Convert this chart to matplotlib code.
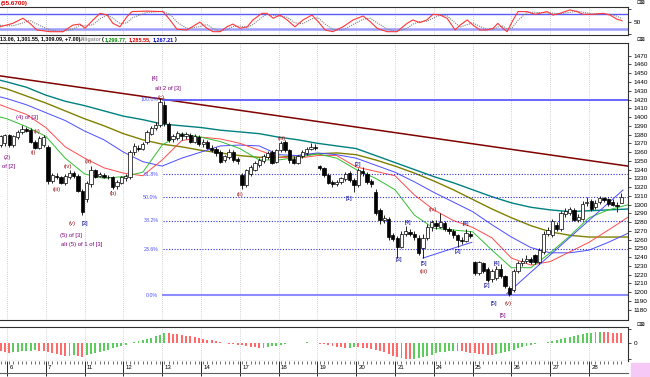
import matplotlib.pyplot as plt
import numpy as np
from matplotlib.patches import Rectangle

# ---- data ----
days = ['6', '7', '11', '12', '13', '14', '17', '18', '19', '20', '21', '24', '25', '26', '27', '28']

opens = [1368, 1370, 1379, 1368, 1377, 1383, 1386, 1385, 1371, 1365, 1368,
         1366, 1327, 1333, 1331, 1325, 1332, 1336, 1333, 1316,
         1306, 1323, 1339, 1333, 1334, 1332, 1331, 1321, 1325,
         1330, 1331, 1360, 1365, 1364, 1371, 1381, 1388, 1391,
         1414, 1392, 1375, 1376, 1381, 1378, 1380, 1372, 1377,
         1369, 1372, 1365, 1363, 1360, 1351, 1354, 1360, 1352,
         1334, 1322, 1335, 1340, 1345, 1350, 1354, 1360, 1349,
         1362, 1371, 1362, 1352, 1348, 1355, 1359, 1364, 1366,
         1344, 1342, 1334, 1326, 1323, 1326, 1329, 1336, 1328,
         1322, 1338, 1335, 1327, 1314, 1294, 1283, 1284, 1265,
         1262, 1252, 1266, 1269, 1267, 1262, 1250, 1262, 1274,
         1279, 1275, 1279, 1272, 1270, 1265, 1260, 1259, 1267,
         1234, 1222, 1233, 1227, 1215, 1216, 1226, 1218, 1205,
         1203, 1224, 1233, 1236, 1238, 1242, 1234, 1246, 1266,
         1265, 1277, 1272, 1289, 1290, 1294, 1283, 1284, 1302,
         1304, 1297, 1303, 1307, 1306, 1303, 1300, 1302]
highs = [1380, 1381, 1381, 1380, 1385, 1391, 1389, 1387, 1374, 1378, 1380,
         1368, 1336, 1336, 1333, 1335, 1340, 1338, 1335, 1318,
         1327, 1344, 1341, 1337, 1336, 1334, 1333, 1328, 1333,
         1335, 1362, 1370, 1368, 1371, 1385, 1390, 1394, 1422,
         1418, 1394, 1381, 1384, 1383, 1383, 1382, 1381, 1380,
         1375, 1374, 1368, 1366, 1362, 1357, 1363, 1362, 1354,
         1336, 1341, 1345, 1350, 1353, 1358, 1361, 1362, 1364,
         1373, 1374, 1364, 1355, 1357, 1362, 1366, 1370, 1369,
         1345, 1343, 1336, 1328, 1328, 1332, 1337, 1338, 1330,
         1342, 1343, 1337, 1329, 1318, 1296, 1288, 1286, 1268,
         1264, 1270, 1276, 1272, 1270, 1265, 1266, 1278, 1283,
         1282, 1290, 1281, 1275, 1272, 1267, 1263, 1272, 1270,
         1236, 1236, 1235, 1229, 1226, 1230, 1232, 1220, 1207,
         1226, 1236, 1239, 1242, 1240, 1244, 1250, 1270, 1274,
         1284, 1280, 1293, 1296, 1297, 1296, 1289, 1304, 1309,
         1306, 1305, 1310, 1309, 1308, 1306, 1303, 1313.06]
lows = [1366, 1367, 1366, 1366, 1375, 1381, 1383, 1370, 1363, 1363, 1366,
        1324, 1325, 1329, 1323, 1322, 1329, 1330, 1314, 1288,
        1303, 1320, 1330, 1331, 1330, 1329, 1318, 1318, 1323,
        1327, 1329, 1357, 1361, 1362, 1369, 1380, 1385, 1389,
        1390, 1371, 1372, 1374, 1374, 1375, 1370, 1370, 1367,
        1366, 1363, 1360, 1356, 1347, 1349, 1352, 1349, 1346,
        1318, 1320, 1333, 1338, 1343, 1348, 1352, 1346, 1347,
        1360, 1360, 1348, 1346, 1346, 1353, 1357, 1362, 1362,
        1340, 1332, 1323, 1320, 1321, 1324, 1327, 1326, 1314,
        1320, 1333, 1324, 1320, 1288, 1278, 1279, 1260, 1258,
        1239, 1250, 1264, 1264, 1260, 1243, 1239, 1260, 1270,
        1272, 1273, 1270, 1267, 1262, 1252, 1255, 1257, 1262,
        1220, 1220, 1222, 1212, 1212, 1214, 1216, 1205, 1196,
        1200, 1222, 1230, 1233, 1232, 1232, 1232, 1244, 1264,
        1263, 1270, 1270, 1286, 1288, 1281, 1280, 1282, 1299,
        1293, 1295, 1301, 1303, 1299, 1298, 1292, 1301.55]
closes = [1378, 1379, 1368, 1378, 1383, 1386, 1384, 1372, 1365, 1376, 1377,
          1327, 1334, 1331, 1325, 1333, 1336, 1333, 1316, 1292,
          1325, 1339, 1332, 1335, 1332, 1331, 1320, 1326, 1331,
          1333, 1360, 1367, 1364, 1369, 1383, 1388, 1391, 1417,
          1393, 1374, 1378, 1382, 1378, 1381, 1372, 1378, 1369,
          1372, 1365, 1362, 1359, 1349, 1355, 1360, 1351, 1350,
          1322, 1339, 1343, 1348, 1351, 1356, 1359, 1348, 1362,
          1370, 1362, 1351, 1348, 1355, 1360, 1364, 1366, 1365,
          1342, 1334, 1325, 1323, 1326, 1330, 1335, 1328, 1322,
          1340, 1336, 1326, 1323, 1290, 1282, 1285, 1263, 1261,
          1252, 1267, 1270, 1267, 1263, 1245, 1262, 1275, 1280,
          1276, 1280, 1272, 1270, 1265, 1260, 1258, 1268, 1264,
          1222, 1234, 1224, 1214, 1224, 1227, 1218, 1207, 1198,
          1224, 1233, 1236, 1238, 1235, 1234, 1248, 1267, 1271,
          1281, 1272, 1290, 1293, 1295, 1283, 1286, 1301, 1303,
          1295, 1302, 1307, 1305, 1301, 1300, 1298, 1309.09]

# moving averages / alligator, sampled every half day
ma_teal = [1442, 1440, 1434, 1425, 1418, 1413, 1407, 1401, 1397, 1392, 1390, 1388, 1385, 1383, 1381, 1377, 1374,
           1370, 1367, 1364, 1356, 1348, 1340, 1332, 1325, 1317, 1309, 1302, 1297, 1294, 1292, 1293, 1294, 1295]
ma_olive = [1434, 1432, 1424, 1416, 1407, 1398, 1390, 1381, 1374, 1369, 1366, 1362, 1359, 1356, 1354, 1354, 1356,
            1358, 1359, 1357, 1351, 1344, 1336, 1327, 1317, 1306, 1295, 1285, 1276, 1269, 1265, 1263, 1263, 1263]
jaw = [1423, 1421, 1414, 1405, 1396, 1384, 1374, 1360, 1349, 1344, 1353, 1360, 1367, 1368, 1367, 1357, 1356,
       1359, 1357, 1353, 1345, 1337, 1326, 1314, 1303, 1292, 1277, 1263, 1251, 1245, 1245, 1248, 1257, 1267.21]
teeth = [1414, 1411, 1403, 1388, 1366, 1353, 1342, 1336, 1333, 1351, 1373, 1377, 1375, 1370, 1362, 1354, 1353,
         1356, 1356, 1343, 1338, 1333, 1311, 1294, 1282, 1274, 1262, 1239, 1231, 1235, 1246, 1257, 1271, 1285.55]
lips = [1400, 1398, 1389, 1378, 1353, 1335, 1330, 1332, 1337, 1368, 1381, 1377, 1372, 1364, 1351, 1351, 1354,
        1358, 1353, 1340, 1330, 1317, 1288, 1273, 1271, 1269, 1248, 1228, 1228, 1245, 1264, 1285, 1294, 1299.77]

trend_x = [-0.18, 16.0]
trend_y = [1447, 1344]
chan1_x = [12.835, 15.876]
chan1_y = [1196.5, 1316.7]
chan2_x = [10.72, 11.98]
chan2_y = [1239, 1257]

fib_hi, fib_lo = 1420, 1196.5
fib_levels = [0.618, 0.5, 0.382, 0.236]

# stochastic, top panel
stoch_x = [-0.18, 0.15, 0.41, 0.59, 0.77, 1.11, 1.44, 1.70, 1.88, 2.01, 2.22, 2.40, 2.58, 2.73, 2.91, 3.09, 3.22,
           3.61, 4.02, 4.20, 4.38, 4.64, 4.97, 5.15, 5.31, 5.49, 5.67, 5.82, 6.01, 6.19, 6.34, 6.57, 6.70, 6.86,
           7.04, 7.22, 7.42, 7.63, 7.86, 8.02, 8.20, 8.40, 8.66, 8.92, 9.18, 9.36, 9.54, 9.79, 10.05, 10.31, 10.46,
           10.64, 10.82, 10.98, 11.16, 11.34, 11.55, 11.68, 11.86, 12.01, 12.19, 12.37, 12.53, 12.65, 12.78, 12.89,
           13.02, 13.17, 13.40, 13.61, 13.92, 14.07, 14.25, 14.51, 14.69, 14.85, 15.10, 15.36, 15.54, 15.72, 15.85]
stoch_k = [29, 43, 64, 43, 16, 9, 9, 36, 40, 23, 57, 84, 77, 43, 29, 70, 91,
           93, 91, 57, 19, 16, 48, 23, 9, 9, 29, 40, 23, 29, 57, 84, 84, 64,
           77, 57, 29, 57, 77, 50, 16, 9, 29, 57, 73, 50, 23, 9, 9, 43, 57,
           46, 57, 80, 77, 64, 16, 36, 57, 36, 16, 16, 23, 43, 23, 9,
           50, 91, 91, 80, 91, 77, 84, 98, 91, 80, 80, 84, 77, 60, 54]
stoch_d = [35, 33, 45, 55, 40, 15, 10, 20, 35, 33, 38, 62, 78, 65, 42, 45, 65,
           88, 92, 80, 48, 22, 30, 38, 22, 10, 18, 30, 32, 26, 38, 68, 80, 76,
           72, 68, 45, 42, 62, 66, 40, 18, 16, 38, 60, 64, 45, 20, 10, 22, 40,
           50, 52, 64, 76, 74, 45, 28, 38, 45, 30, 18, 18, 28, 32, 20,
           25, 55, 88, 88, 86, 85, 82, 88, 93, 88, 82, 82, 80, 72, 62]

# histogram, bottom panel (one value per bar)
osc = [-25, -28,
       -29, -28, -26, -25, -24, -23, -22, -23, -24,
       -26, -30, -34, -37, -40, -38, -36, -39, -41,
       -36, -33, -30, -27, -24, -20, -16, -12, -8,
       -4, 0, 3, 6, 9, 13, 17, 22, 27,
       33, 32, 30, 28, 26, 24, 22, 20, 17,
       15, 12, 9, 6, 3, 1, -1, -3, -5,
       -6, -8, -10, -12, -14, -13, -11, -9, -7,
       -4, -2, 0, 1, 2, 2, 3, 2, 1,
       -1, -3, -5, -8, -10, -12, -14, -13, -12,
       -12, -13, -15, -17, -20, -23, -27, -32, -38,
       -43, -46, -48, -50, -49, -47, -44, -40, -35,
       -30, -28, -26, -25, -24, -24, -25, -27, -29,
       -30, -32, -34, -35, -35, -33, -31, -28, -24,
       -20, -16, -12, -9, -6, -3, 0, 2, 4,
       7, 10, 13, 16, 19, 22, 25, 28, 31,
       33, 35, 36, 35, 34, 33, 32, 31]

# wave labels: text, x (days), price, colour
labels = [
    ('(4) of [3]', 0.52, 1399, '#800080'), ('(2)', 0.0, 1354, '#800080'), ('of [2]', 0.05, 1343, '#800080'),
    ('(ii)', 0.77, 1383, '#a01010'), ('(i)', 0.67, 1360, '#a01010'), ('(iii)', 1.29, 1317, '#a01010'),
    ('(iv)', 1.57, 1344, '#a01010'), ('(v)', 1.68, 1279, '#a01010'), ('[3]', 2.01, 1279, '#000090'),
    ('(5) of [3]', 1.66, 1265, '#800080'), ('alt (5) of 1 of [3]', 1.93, 1255, '#800080'),
    ('(a)', 2.09, 1349, '#a01010'), ('(b)', 2.73, 1313, '#a01010'),
    ('[4]', 3.81, 1444, '#800080'), ('alt 2 of [3]', 4.15, 1433, '#800080'), ('(c)', 3.97, 1422, '#a01010'),
    ('(iii)', 7.09, 1375, '#a01010'), ('(ii)', 6.0, 1312, '#a01010'),
    ('[1]', 8.81, 1307, '#000090'), ('[2]', 9.05, 1346, '#000090'), ('[3]', 10.1, 1237, '#000090'),
    ('[4]', 10.34, 1280, '#000090'), ('[5]', 10.75, 1233, '#000090'), ('(iii)', 10.75, 1224, '#a01010'),
    ('(iv)', 10.98, 1295, '#a01010'), ('[4]', 11.83, 1278, '#000090'), ('[3]', 11.62, 1246, '#000090'),
    ('[2]', 12.37, 1208, '#000090'), ('[4]', 12.63, 1233, '#000090'), ('[5]', 12.55, 1187, '#000090'),
    ('(v)', 12.91, 1187, '#a01010'), ('[5]', 12.78, 1173, '#800080'),
]

# ---- figure ----
W, H = 650, 377
plt.rcParams['font.family'] = ['Liberation Sans', 'DejaVu Sans']
fig = plt.figure(figsize=(6.5, 3.77), dpi=100)


def box(x0, y0, x1, y1):
    return fig.add_axes([x0 / W, 1 - y1 / H, (x1 - x0) / W, (y1 - y0) / H])


XL = (-0.1804, 16.005)
n = len(closes)
bx = (np.arange(n) - 1.5) / 9.0
line_x = np.concatenate([[-0.1804], np.arange(0, 16.01, 0.5)])


def style(ax):
    ax.set_xlim(*XL)
    ax.set_xticks([])
    ax.spines['left'].set_visible(False)
    for s in ['top', 'bottom', 'right']:
        ax.spines[s].set_color('#303030')
        ax.spines[s].set_linewidth(0.8)
    ax.yaxis.tick_right()
    ax.tick_params(axis='y', length=2.5, width=0.5, labelsize=4.6, pad=1.5)
    for d in range(16):
        ax.axvline(d, color='#a8a8a8', lw=0.5, ls=(0, (1, 2)), zorder=0)


# stochastic panel
ax0 = box(0, 7, 628, 35)
style(ax0)
ax0.set_ylim(-4.5, 109.8)
ax0.set_yticks([0, 50, 100])
ax0.set_yticklabels(['', '50', ''])
ax0.axhline(80, color='#5a5aff', lw=1.0)
ax0.axhline(20, color='#9c9cff', lw=1.8)
ax0.plot(stoch_x, stoch_d, color='#808080', lw=0.8, ls=(0, (1, 1)))
ax0.plot(stoch_x, stoch_k, color='#ff3838', lw=0.8)

# price panel
ax = box(0, 43, 628, 320)
style(ax)
ax.set_ylim(1168.3, 1484.5)
ax.set_yticks(range(1180, 1471, 10))

ax.plot(trend_x, trend_y, color='#800000', lw=1.1)
ax.plot(line_x, ma_teal, color='#008080', lw=1.0)
ax.plot(line_x, ma_olive, color='#808000', lw=1.0)
ax.plot(line_x, jaw, color='#4b4bff', lw=0.7)
ax.plot(line_x, teeth, color='#ff4b4b', lw=0.7)
ax.plot(line_x, lips, color='#30c030', lw=0.7)
ax.plot(chan1_x, chan1_y, color='#4b4bff', lw=0.7)
ax.plot(chan2_x, chan2_y, color='#4b4bff', lw=0.7)

fx = 4.02
ax.plot([fx, XL[1]], [fib_hi, fib_hi], color='#5a5aff', lw=1.3)
ax.plot([fx, XL[1]], [fib_lo, fib_lo], color='#8c8cff', lw=1.5)
ax.text(fx - 0.12, fib_hi, '100.0%', color='#5050ff', fontsize=3.8, ha='right', va='center')
ax.text(fx - 0.12, fib_lo, '0.0%', color='#5050ff', fontsize=3.8, ha='right', va='center')
for lv in fib_levels:
    p = fib_lo + lv * (fib_hi - fib_lo)
    ax.plot([fx, XL[1]], [p, p], color='#3030e0', lw=0.8, ls=(0, (1, 1.5)))
    ax.text(fx - 0.12, p, '%.1f%%' % (lv * 100), color='#5050ff', fontsize=3.8, ha='right', va='center')

o = np.array(opens, float)
c = np.array(closes, float)
up = c >= o
ax.vlines(bx, lows, highs, color='black', lw=0.6, zorder=3)
body = np.maximum(np.abs(c - o), 0.6)
ax.bar(bx, body, bottom=np.minimum(o, c), width=0.085,
       color=np.where(up, 'white', 'black'), edgecolor='black', linewidth=0.5, zorder=4)

for t, lx, ly, col in labels:
    ax.text(lx, ly, t, color=col, fontsize=4.2, ha='center', va='center', zorder=5)

# histogram panel
ax2 = box(0, 327, 628, 361)
style(ax2)
ax2.set_ylim(-55, 51)
ax2.set_yticks([-50, 0, 45])
ax2.set_yticklabels(['', '0', ''])
v = np.array(osc, float)
rising = np.concatenate([[False], v[1:] > v[:-1]])
ax2.bar(bx, v, width=0.05, color=np.where(rising, '#5ccc5c', '#ff6a6a'), linewidth=0)

# date strip
ax3 = box(0, 361, 628, 373)
ax3.set_xlim(*XL)
ax3.set_ylim(0, 1)
ax3.set_yticks([])
ax3.spines['left'].set_visible(False)
ax3.spines['right'].set_visible(False)
ax3.spines['top'].set_visible(False)
ax3.spines['bottom'].set_color('#606060')
ax3.set_xticks(range(16))
ax3.set_xticks(bx, minor=True)
ax3.tick_params(axis='x', which='major', direction='in', top=True, bottom=False,
                length=11, width=0.6, labelbottom=False)
ax3.tick_params(axis='x', which='minor', direction='in', top=True, bottom=False,
                length=2, width=0.4)
for d, lab in enumerate(days):
    ax3.text(d + 0.06, 0.45, lab, fontsize=4.4, ha='left', va='center')

# header texts
fig.text(1 / W, 1 - 3 / H, '(55.6700)', color='#d00000', fontsize=4.5, fontweight='bold', va='center')
head = [(0, '13.06, 1,301.55, 1,309.09, +7.00).', 'black'), (80, 'Alligator', '#909090'),
        (102, '(', 'black'), (105, '1,299.77,', '#009000'), (129, '1,285.55,', '#e00000'),
        (153, '1,267.21', '#0000d0'), (174, ')', 'black')]
for hx, t, col in head:
    fig.text(hx / W, 1 - 39.5 / H, t, color=col, fontsize=3.9, fontweight='bold', va='center')
for iy in [3, 39.5, 324]:
    fig.text(637 / W, 1 - iy / H, '\u22a1\u22a0', fontsize=3.8, va='center', family='DejaVu Sans')
fig.patches.append(Rectangle((631 / W, 0), 19 / W, 14 / H, transform=fig.transFigure,
                             color='#f6c8f6', zorder=0))

fig.savefig('out.png', dpi=100)
